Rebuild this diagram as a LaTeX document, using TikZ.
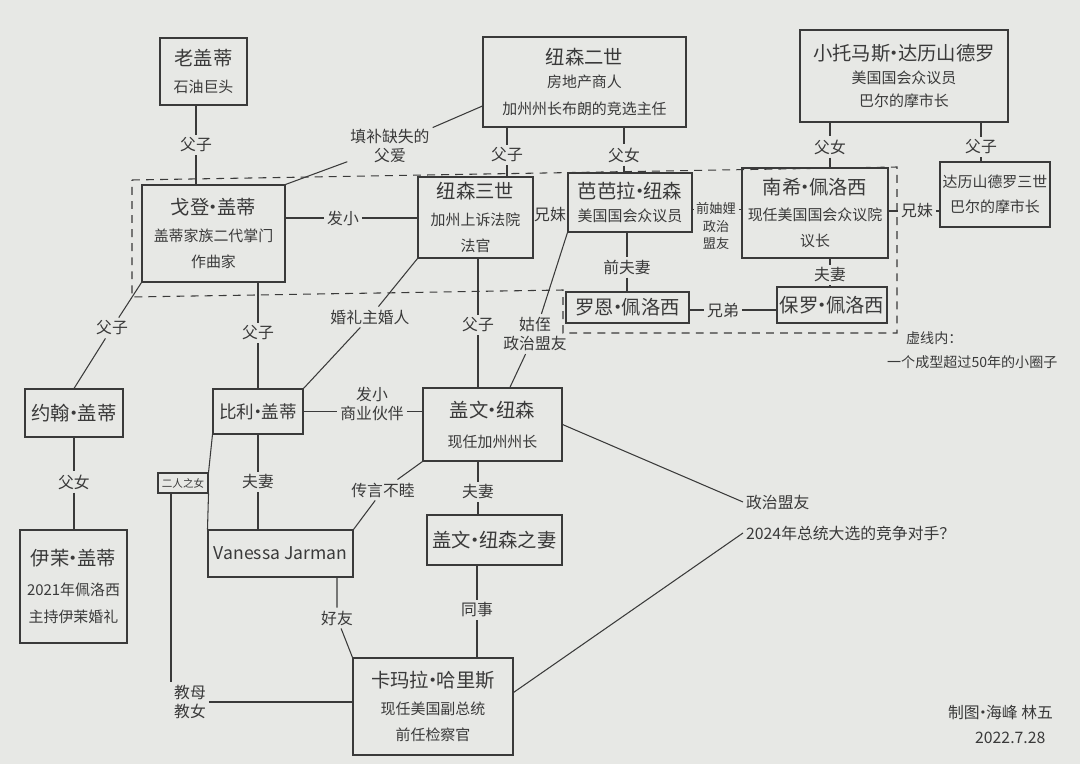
\documentclass[tikz,border=0pt]{standalone}
\usepackage{fontspec}
\setmainfont{Noto Sans CJK SC}
\definecolor{paper}{RGB}{231,232,229}
\definecolor{pencil}{RGB}{58,58,58}
\newcommand{\subline}[1]{{\fontsize{8.5}{11}\selectfont #1}}
\newcommand{\dt}{\kern-0.3em·\kern-0.3em}
\begin{document}
\begin{tikzpicture}[x=0.02cm, y=-0.02cm, line width=0.6pt, color=pencil,
  box/.style={draw, rectangle, align=center, inner sep=1pt, font=\fontsize{11}{13}\selectfont},
  lbl/.style={inner sep=1.5pt, align=center, font=\fontsize{9}{11}\selectfont},
  ring/.style={dash pattern=on 4.5pt off 3.5pt}]
\fill[paper] (0,0) rectangle (1080,764);
\useasboundingbox (0,0) rectangle (1080,764);

\draw[ring] (132,180) -- (897,167) -- (897,333) -- (563,333) -- (563,290) -- (132,297) -- cycle;

\node[box, minimum width=1.74cm, minimum height=1.34cm] (laogetty) at (203.5,71.5) {老盖蒂\\[2pt]\subline{石油巨头}};
\node[box, minimum width=4.06cm, minimum height=1.8cm] (newsom2) at (584.5,82) {纽森二世\\\subline{房地产商人}\\[2pt]\subline{加州州长布朗的竞选主任}};
\node[box, minimum width=4.16cm, minimum height=1.84cm] (dalesandro) at (904,76) {小托马斯\dt 达历山德罗\\\subline{美国国会众议员}\\\subline{巴尔的摩市长}};
\node[box, minimum width=2.86cm, minimum height=1.94cm] (gordon) at (213.5,233.5) {戈登\dt 盖蒂\\[2pt]\subline{盖蒂家族二代掌门}\\[2pt]\subline{作曲家}};
\node[box, minimum width=2.3cm, minimum height=1.62cm] (newsom3) at (475.5,217.5) {纽森三世\\[2pt]\subline{加州上诉法院}\\[2pt]\subline{法官}};
\node[box, minimum width=2.48cm, minimum height=1.18cm] (barbara) at (630,202.5) {芭芭拉\dt 纽森\\\subline{美国国会众议员}};
\node[box, minimum width=2.92cm, minimum height=1.8cm] (nancy) at (815,213) {南希\dt 佩洛西\\[2pt]\subline{现任美国国会众议院}\\[2pt]\subline{议长}};
\node[box, minimum width=2.2cm, minimum height=1.3cm, font=\fontsize{8.5}{12}\selectfont] (dalesandro3) at (995,194.5) {达历山德罗三世\\[2pt]巴尔的摩市长};
\node[box, minimum width=2.46cm, minimum height=0.62cm] (ron) at (627.5,307.5) {罗恩\dt 佩洛西};
\node[box, minimum width=2.2cm, minimum height=0.72cm] (paul) at (832,305) {保罗\dt 佩洛西};
\node[box, minimum width=1.96cm, minimum height=0.96cm] (john) at (74,413) {约翰\dt 盖蒂};
\node[box, minimum width=1.8cm, minimum height=0.9cm, font=\fontsize{10}{12}\selectfont] (billy) at (258,411.5) {比利\dt 盖蒂};
\node[box, minimum width=2.78cm, minimum height=1.46cm] (gavin) at (492.5,424.5) {盖文\dt 纽森\\[4pt]\subline{现任加州州长}};
\node[box, minimum width=1.0cm, minimum height=0.4cm, inner sep=0pt, font=\fontsize{6}{7}\selectfont] (daughter) at (183,483) {二人之女};
\node[box, minimum width=2.9cm, minimum height=0.94cm, font=\fontsize{10}{12}\selectfont] (vanessa) at (280.5,553.5) {Vanessa Jarman};
\node[box, minimum width=2.7cm, minimum height=1.0cm] (gavinwife) at (494.5,540) {盖文\dt 纽森之妻};
\node[box, minimum width=2.14cm, minimum height=2.26cm] (ivy) at (73.5,586.5) {伊茉\dt 盖蒂\\[4pt]\subline{2021年佩洛西}\\[2pt]\subline{主持伊茉婚礼}};
\node[box, minimum width=3.2cm, minimum height=1.94cm] (kamala) at (433,706.5) {卡玛拉\dt 哈里斯\\[2pt]\subline{现任美国副总统}\\[2pt]\subline{前任检察官}};

\node[lbl] (fz1) at (196,145) {父子};
\draw (fz1 |- laogetty.south) -- (fz1) -- (fz1 |- gordon.north);
\node[lbl] (fillin) at (390,146) {填补缺失的\\父爱};
\draw (gordon.north east) -- (fillin) -- (newsom2.west |- 0,106);
\node[lbl] (fx1) at (343,218) {发小};
\draw (gordon.east |- fx1) -- (fx1) -- (newsom3.west |- fx1);
\node[lbl] (fz2) at (507,155) {父子};
\draw (fz2 |- newsom2.south) -- (fz2) -- (fz2 |- newsom3.north);
\node[lbl] (fn1) at (624,155) {父女};
\draw (fn1 |- newsom2.south) -- (fn1) -- (fn1 |- barbara.north);
\node[lbl, inner sep=0.5pt] (xm1) at (550,215) {兄妹};
\draw (newsom3.east |- xm1) -- (xm1) -- (barbara.west |- xm1);
\node[lbl, font=\fontsize{7.5}{10}\selectfont] (zl) at (716,226) {前妯娌\\政治\\盟友};
\draw (barbara.east |- zl.north) ++(0,10) coordinate (zla) -- (zla -| zl.west);
\draw (zl.east |- zla) -- (nancy.west |- zla);
\node[lbl] (qfq) at (627,267) {前夫妻};
\draw (qfq |- barbara.south) -- (qfq) -- (qfq |- ron.north);
\node[lbl] (xd) at (723,310) {兄弟};
\draw (ron.east |- xd) -- (xd) -- (paul.west |- xd);
\node[lbl] (fq1) at (830,275) {夫妻};
\draw (fq1 |- nancy.south) -- (fq1) -- (fq1 |- paul.north);
\node[lbl] (fn2) at (830,147) {父女};
\draw (fn2 |- dalesandro.south) -- (fn2) -- (fn2 |- nancy.north);
\node[lbl] (fz3) at (981,147) {父子};
\draw (fz3 |- dalesandro.south) -- (fz3) -- (fz3 |- dalesandro3.north);
\node[lbl] (xm2) at (917,211) {兄妹};
\draw (nancy.east |- xm2) -- (xm2) -- (dalesandro3.west |- xm2);

\node[lbl] (fz4) at (112,328) {父子};
\draw (gordon.south west) -- (fz4) -- (john.north);
\node[lbl] (fz5) at (258,333) {父子};
\draw (fz5 |- gordon.south) -- (fz5) -- (fz5 |- billy.north);
\node[lbl] (wedding) at (370,317) {婚礼主婚人};
\draw (newsom3.south west) -- (wedding) -- (billy.north east);
\node[lbl] (fz6) at (478,325) {父子};
\draw (fz6 |- newsom3.south) -- (fz6) -- (fz6 |- gavin.north);
\node[lbl] (gz) at (535,334) {姑侄\\政治盟友};
\draw (barbara.south west) -- (gz) -- (gavin);
\node[lbl] (fx2) at (372,404) {发小\\商业伙伴};
\draw (billy.east) -- (billy.east -| fx2.west);
\draw (fx2.east |- billy.east) -- (gavin.west |- billy.east);
\node[lbl] (fn3) at (74,482) {父女};
\draw (fn3 |- john.south) -- (fn3) -- (fn3 |- ivy.north);
\node[lbl] (fq2) at (258,482) {夫妻};
\draw (fq2 |- billy.south) -- (fq2) -- (fq2 |- vanessa.north);
\draw (billy.south west) -- (daughter.north east);
\draw (daughter.south east) -- (vanessa.north west);
\node[lbl] (rumor) at (383,490) {传言不睦};
\draw (gavin.south west) -- (rumor) -- (vanessa.north east);
\node[lbl] (fq3) at (478,492) {夫妻};
\draw (fq3 |- gavin.south) -- (fq3) -- (fq3 |- gavinwife.north);
\node[lbl] (godm) at (190,702) {教母\\教女};
\draw (godm.north west |- daughter.south) -- (godm.north west);
\draw (godm.east) -- (godm.east -| kamala.west);
\node[lbl] (hy) at (337,618) {好友};
\draw (hy |- vanessa.south) -- (hy) -- (kamala.north west);
\node[lbl] (ts) at (477,610) {同事};
\draw (ts |- gavinwife.south) -- (ts) -- (ts |- kamala.north);

\node[lbl, anchor=west] (ally) at (743,502) {政治盟友};
\draw (gavin.east) -- (ally.west);
\node[lbl, anchor=west] (rival) at (743,533) {2024年总统大选的竞争对手？};
\draw (kamala.east) ++(0,-14) -- (rival.west);

\node[lbl, anchor=west, font=\fontsize{8}{10}\selectfont] (note1) at (903,338) {虚线内：};
\node[lbl, anchor=west, font=\fontsize{8}{10}\selectfont] (note2) at (884,362) {一个成型超过50年的小圈子};
\node[lbl, anchor=west] (sign) at (945,712) {制图\dt 海峰\ 林五};
\node[lbl, anchor=west] (date) at (972,738) {2022.7.28};
\end{tikzpicture}
\end{document}
